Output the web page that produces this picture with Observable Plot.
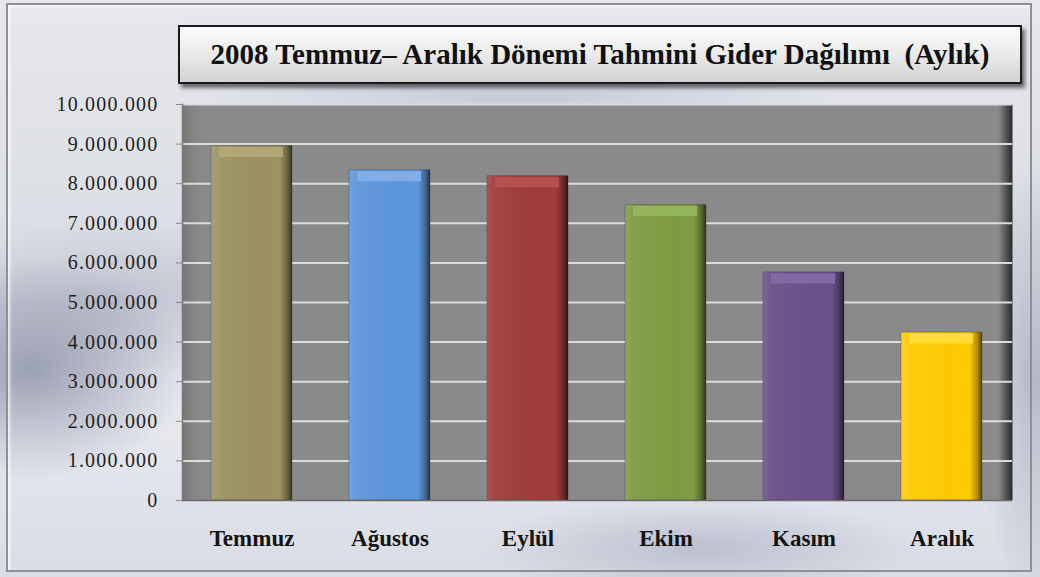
<!DOCTYPE html>
<html>
<head>
<meta charset="utf-8">
<script src="https://cdn.jsdelivr.net/npm/d3@7"></script>
<script src="https://cdn.jsdelivr.net/npm/@observablehq/plot@0.6"></script>
<style>
  html, body { margin: 0; padding: 0; }
  #wrap {
    position: relative; width: 1040px; height: 577px; overflow: hidden;
    background:
      radial-gradient(ellipse 160px 110px at 30px 370px, rgba(125,131,155,0.7), rgba(125,131,155,0) 100%),
      radial-gradient(ellipse 220px 80px at 110px 300px, rgba(150,155,175,0.45), rgba(150,155,175,0) 100%),
      radial-gradient(ellipse 220px 50px at 700px 548px, rgba(150,156,178,0.45), rgba(150,156,178,0) 100%),
      radial-gradient(ellipse 60px 220px at 1035px 380px, rgba(140,146,168,0.55), rgba(140,146,168,0) 100%),
      radial-gradient(ellipse 320px 40px at 520px 97px, rgba(150,155,175,0.35), rgba(150,155,175,0) 100%),
      linear-gradient(180deg, #e6e8ed 0%, #dcdee5 40%, #e6e8ee 75%, #d9dce4 100%);
  }
  #border {
    position: absolute; left: 6px; top: 3px; right: 8px; bottom: 5px;
    border: 2px solid #8e9096; box-shadow: inset 2px 2px 3px rgba(255,255,255,0.8);
    pointer-events: none;
  }
  #title {
    position: absolute; left: 178px; top: 25px; width: 840px; height: 55px;
    border: 2px solid #1a1a1a;
    background: linear-gradient(180deg, #fbfbfb 0%, #ececec 45%, #d2d2d2 100%);
    box-shadow: 3px 4px 4px rgba(0,0,0,0.55);
    display: flex; align-items: center; justify-content: center;
    font-family: "Liberation Serif", "Times New Roman", "DejaVu Serif", serif; font-weight: bold;
    font-size: 29px; color: #111; white-space: pre;
  }
  #chart { position: absolute; left: 0; top: 0; }
  #chart svg g[aria-label="y-axis tick label"] text { letter-spacing: 1.2px; }
</style>
</head>
<body>
<svg width="0" height="0" style="position:absolute">
  <defs>
    <linearGradient id="wallShade" x1="0" x2="1" y1="0" y2="0">
      <stop offset="0" stop-color="#777"/>
      <stop offset="0.012" stop-color="#848484"/>
      <stop offset="0.025" stop-color="#8a8a8a"/>
      <stop offset="0.983" stop-color="#8a8a8a"/>
      <stop offset="0.993" stop-color="#505050"/>
      <stop offset="1" stop-color="#2a2a2a"/>
    </linearGradient>
    <linearGradient id="barShade" x1="0" x2="1" y1="0" y2="0">
      <stop offset="0" stop-color="#fff" stop-opacity="0.12"/>
      <stop offset="0.1" stop-color="#fff" stop-opacity="0.05"/>
      <stop offset="0.85" stop-color="#000" stop-opacity="0"/>
      <stop offset="0.94" stop-color="#000" stop-opacity="0.3"/>
      <stop offset="1" stop-color="#000" stop-opacity="0.65"/>
    </linearGradient>
  </defs>
</svg>
<div id="wrap">
  <div id="border"></div>
  <div id="chart"></div>
  <div id="title">2008 Temmuz– Aralık Dönemi Tahmini Gider Dağılımı  (Aylık)</div>
</div>
<script>
const months = ["Temmuz", "Ağustos", "Eylül", "Ekim", "Kasım", "Aralık"];
const values = [8950000, 8340000, 8190000, 7460000, 5760000, 4240000];
const colors = ["#9c9262", "#5c96dc", "#9f3c3a", "#7f9c43", "#6a518a", "#fecb02"];
const bevels = ["#b3a977", "#80b0ea", "#b65350", "#97b65b", "#8469a5", "#ffdc3a"];
const yTicks = d3.range(0, 10000001, 1000000);

const data = months.map((m, i) => ({month: m, value: values[i], color: colors[i], bevel: bevels[i]}));
const fmt = d => d3.format(",")(d).replace(/,/g, ".");

const chart = Plot.plot({
  width: 1040,
  height: 577,
  marginLeft: 182,
  marginRight: 28,
  marginTop: 104,
  marginBottom: 77,
  style: {background: "transparent", fontFamily: "'Liberation Serif', 'Times New Roman', 'DejaVu Serif', serif"},
  x: {domain: months, paddingInner: 0.41, paddingOuter: 0.205, label: null},
  y: {domain: [0, 10000000], label: null},
  marks: [
    Plot.frame({fill: "url(#wallShade)", stroke: null}),
    Plot.ruleY(yTicks.slice(1), {stroke: "#dcdcdc", strokeWidth: 2}),
    Plot.barY(data, {x: "month", y: "value", fill: "color", stroke: "#333", strokeOpacity: 0.35, strokeWidth: 1}),
    Plot.barY(data, {x: "month", y: "value", fill: "url(#barShade)"}),
    Plot.tickY(data, {x: "month", y: "value", stroke: "bevel", strokeWidth: 10, dy: 6, insetLeft: 8, insetRight: 9, strokeOpacity: 0.95}),
    Plot.ruleY([0], {stroke: "#6a6a6a", strokeWidth: 1.5}),
    Plot.frame({anchor: "left", stroke: "#777", strokeWidth: 1.5}),
    Plot.axisY({ticks: yTicks, tickFormat: fmt, tickSize: 6, tickPadding: 18, stroke: "#888",
      fontSize: 20, fill: "#1e1e1e"}),
    Plot.axisX({tickSize: 0, tickPadding: 29, fontSize: 23, fontWeight: "bold", fill: "#141414"})
  ]
});
document.getElementById("chart").appendChild(chart);
</script>
</body>
</html>
